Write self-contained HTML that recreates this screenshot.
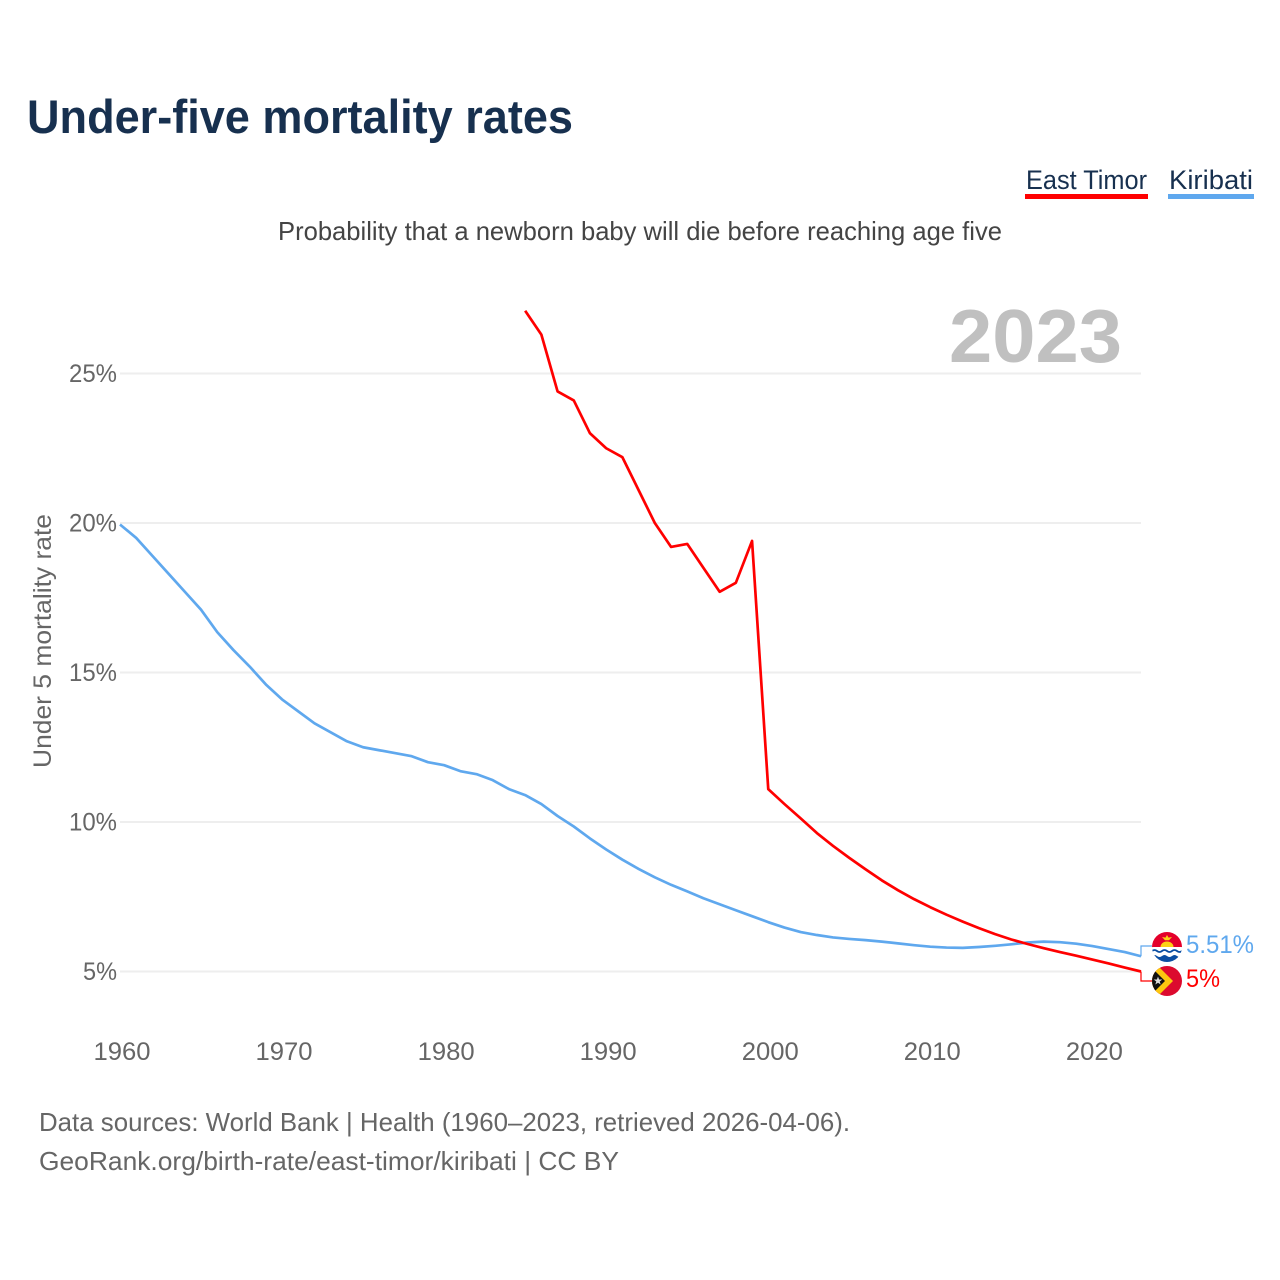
<!DOCTYPE html>
<html lang="en">
<head>
<meta charset="utf-8">
<title>Under-five mortality rates</title>
<style>
html,body{margin:0;padding:0;background:#fff;width:1280px;height:1280px;overflow:hidden}
svg{display:block;font-family:"Liberation Sans",sans-serif}
</style>
</head>
<body>
<svg id="chart" xmlns="http://www.w3.org/2000/svg" width="1280" height="1280" viewBox="0 0 1280 1280">
  <defs>
    <clipPath id="flag-clip-k"><circle cx="1167" cy="947" r="15"/></clipPath>
    <clipPath id="flag-clip-t"><circle cx="1167" cy="981" r="15"/></clipPath>
  </defs>
  <rect width="1280" height="1280" fill="#fff"/>
  <text x="27" y="133" font-size="47" font-weight="700" fill="#17304f" textLength="546" lengthAdjust="spacingAndGlyphs">Under-five mortality rates</text>
  <g>
    <text x="1026" y="189" font-size="27" fill="#17304f" textLength="121" lengthAdjust="spacingAndGlyphs">East Timor</text>
    <rect x="1025" y="194" width="123" height="5" fill="#ff0000"/>
  </g>
  <g>
    <text x="1169" y="189" font-size="27" fill="#17304f" textLength="84" lengthAdjust="spacingAndGlyphs">Kiribati</text>
    <rect x="1168" y="194" width="86" height="5" fill="#5fa8ee"/>
  </g>
  <text x="278" y="240" font-size="26" fill="#444" textLength="724" lengthAdjust="spacingAndGlyphs">Probability that a newborn baby will die before reaching age five</text>
  <text transform="translate(51,768) rotate(-90)" font-size="25" fill="#666" textLength="254" lengthAdjust="spacingAndGlyphs">Under 5 mortality rate</text>
  <g id="grid"></g>
  <g id="y-ticks"></g>
  <g id="x-ticks"></g>
  <text x="949" y="362" font-size="75" font-weight="700" fill="#c0c0c0" textLength="173" lengthAdjust="spacingAndGlyphs">2023</text>
  <g id="series"></g>

  <g clip-path="url(#flag-clip-k)">
    <rect x="1152" y="932" width="30" height="16" fill="#e4002b"/>
    <path d="M1160.5 947 a6.5 5.5 0 0 1 13 0z" fill="#fcd116"/>
    <path d="M1162 937 l3.5 0.6 1.5 -2.6 1.5 2.6 3.5 -0.6 -3 3.2 h-4z" fill="#fcd116"/>
    <rect x="1152" y="947" width="30" height="15" fill="#fff"/>
    <path d="M1152 951 q2.5 -2 5 0 t5 0 t5 0 t5 0 t5 0 t5 0" fill="none" stroke="#0b4ea2" stroke-width="1.8"/>
    <path d="M1152 956 q2.5 -2 5 0 t5 0 t5 0 t5 0 t5 0 t5 0 v6 h-30z" fill="#0b4ea2"/>
  </g>
  <g clip-path="url(#flag-clip-t)">
    <rect x="1152" y="966" width="30" height="30" fill="#dc0a2e"/>
    <path d="M1152 960 L1173 981 L1152 1002z" fill="#fcc70f"/>
    <path d="M1152 968 L1165 981 L1152 994z" fill="#111"/>
    <path d="M1158 976.5 l1.1 3 3.2 0 -2.6 2 1 3 -2.7 -1.8 -2.7 1.8 1 -3 -2.6 -2 3.2 0z" fill="#ddd"/>
  </g>
  <text x="1186" y="953" font-size="25" fill="#5fa8ee" textLength="68" lengthAdjust="spacingAndGlyphs">5.51%</text>
  <text x="1186" y="987" font-size="25" fill="#ff0000" textLength="34" lengthAdjust="spacingAndGlyphs">5%</text>

  <text x="39" y="1131" font-size="26" fill="#666" textLength="811" lengthAdjust="spacingAndGlyphs">Data sources: World Bank | Health (1960–2023, retrieved 2026-04-06).</text>
  <text x="39" y="1170" font-size="26" fill="#666" textLength="580" lengthAdjust="spacingAndGlyphs">GeoRank.org/birth-rate/east-timor/kiribati | CC BY</text>
</svg>
<script>
var kiribatiStartYear = 1960;
var kiribatiValues = [19.95,19.5,18.9,18.3,17.7,17.1,16.35,15.75,15.2,14.6,14.1,13.7,13.3,13.0,12.7,12.5,12.4,12.3,12.2,12.0,11.9,11.7,11.6,11.4,11.1,10.9,10.6,10.2,9.85,9.45,9.08,8.74,8.43,8.15,7.9,7.68,7.45,7.25,7.05,6.85,6.65,6.47,6.32,6.22,6.14,6.09,6.05,6.0,5.94,5.88,5.83,5.8,5.79,5.82,5.86,5.91,5.97,6.0,5.98,5.93,5.85,5.75,5.65,5.51];
var timorStartYear = 1985;
var timorValues = [27.1,26.3,24.4,24.1,23.0,22.5,22.2,21.1,20.0,19.2,19.3,18.5,17.7,18.0,19.4,11.1,10.6,10.12,9.63,9.2,8.8,8.42,8.05,7.72,7.42,7.15,6.9,6.67,6.45,6.25,6.07,5.92,5.78,5.65,5.53,5.4,5.27,5.13,5.0];
var yTickValues = [5,10,15,20,25];
var xTickYears = [1960,1970,1980,1990,2000,2010,2020];

var NS = 'http://www.w3.org/2000/svg';
function xScale(year){ return 120 + (year - 1960) * (1141 - 120) / 63; }
function yScale(pct){ return 971.5 - (pct - 5) * (971.5 - 373.5) / 20; }
function make(tag, attrs, parent){
  var el = document.createElementNS(NS, tag);
  for (var k in attrs) el.setAttribute(k, attrs[k]);
  parent.appendChild(el);
  return el;
}

var gridGroup = document.getElementById('grid');
var yGroup = document.getElementById('y-ticks');
yTickValues.forEach(function(v){
  var line = make('line', {x1:120, x2:1141, y1:yScale(v), y2:yScale(v), stroke:'#eeeeee', 'stroke-width':2}, gridGroup);
  
  
  var text = v + '%';
  var width = (text.length - 1) * 14 + 20;
  var label = make('text', {x:117 - width, y:yScale(v)+8.5, 'font-size':25, fill:'#666', textLength:width, lengthAdjust:'spacingAndGlyphs'}, yGroup);
  
  
  label.textContent = text;
});

var xGroup = document.getElementById('x-ticks');
xTickYears.forEach(function(year){
  var label = make('text', {x:xScale(year)-26.5, y:1060, 'font-size':25, fill:'#666', textLength:57, lengthAdjust:'spacingAndGlyphs'}, xGroup);
  
  
  label.textContent = year;
});

function seriesPoints(startYear, values){
  return values.map(function(v, i){
    return xScale(startYear + i).toFixed(2) + ',' + yScale(v).toFixed(2);
  }).join(' ');
}
var seriesGroup = document.getElementById('series');

var kiribatiLine = make('polyline', {points:seriesPoints(kiribatiStartYear, kiribatiValues), fill:'none', stroke:'#5fa8ee', 'stroke-width':2.7, 'stroke-linejoin':'round'}, seriesGroup);



var timorLine = make('polyline', {points:seriesPoints(timorStartYear, timorValues), fill:'none', stroke:'#ff0000', 'stroke-width':2.7, 'stroke-linejoin':'round'}, seriesGroup);



var lastYear = 2023;
var kiribatiEndY = yScale(kiribatiValues[kiribatiValues.length - 1]);
var kiribatiLeader = make('polyline', {points:xScale(lastYear)+','+kiribatiEndY+' '+xScale(lastYear)+',946 1152,946', fill:'none', stroke:'#5fa8ee', 'stroke-width':1.2}, seriesGroup);



var timorEndY = yScale(timorValues[timorValues.length - 1]);
var timorLeader = make('polyline', {points:xScale(lastYear)+','+timorEndY+' '+xScale(lastYear)+',981 1152,981', fill:'none', stroke:'#ff0000', 'stroke-width':1.2}, seriesGroup);


</script>
</body>
</html>
